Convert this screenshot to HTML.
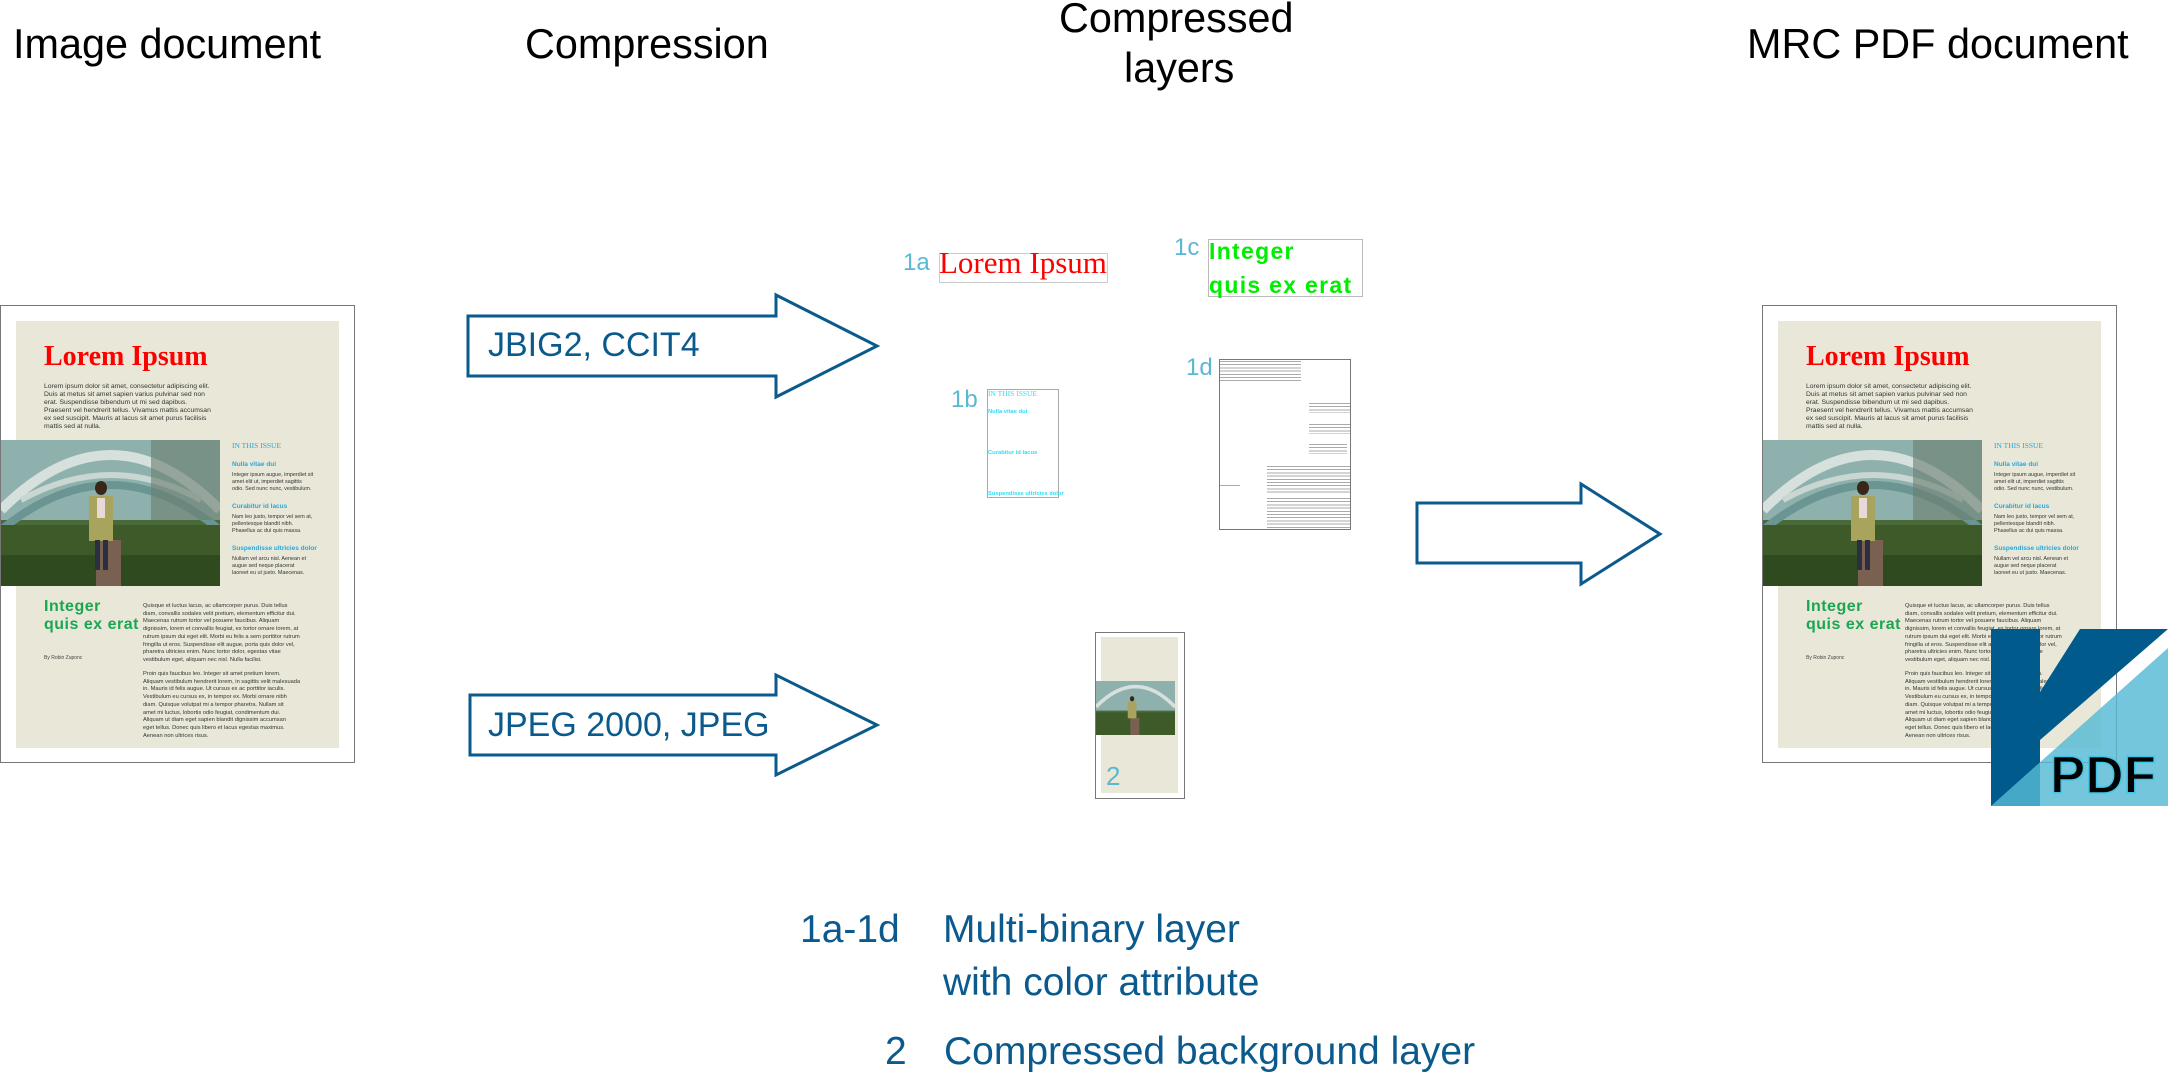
<!DOCTYPE html>
<html><head><meta charset="utf-8">
<style>
*{margin:0;padding:0;box-sizing:border-box}
body{width:2168px;height:1077px;background:#fff;position:relative;overflow:hidden;font-family:"Liberation Sans",Arial,sans-serif}
.abs{position:absolute}
.h{position:absolute;font-size:42px;color:#000;white-space:nowrap;transform-origin:0 0;transform:scaleX(0.985)}
.page{position:absolute;width:355px;height:458px;border:1.5px solid #777;background:#fff}
.page .bg{position:absolute;left:15px;top:15px;width:323px;height:427px;background:#e9e8d8}
.page .t{position:absolute;left:43px;top:35px;font-family:"Liberation Serif",serif;font-size:28px;font-weight:bold;color:#f00;white-space:nowrap}
.page .p{position:absolute;font-size:6.2px;line-height:7.75px;color:#333;white-space:nowrap}
.page .ph{position:absolute;left:0;top:134px;width:219px;height:146px}
.page .iti{position:absolute;left:231px;top:135px;font-family:"Liberation Serif",serif;font-size:7.5px;color:#22a8dd}
.page .sh{position:absolute;left:231px;font-size:6.5px;font-weight:bold;color:#22a8dd;white-space:nowrap}
.page .ig{position:absolute;left:43px;top:292px;font-size:16px;font-weight:bold;color:#1aa653;line-height:18px;letter-spacing:.5px}
.page .by{position:absolute;left:43px;top:349px;font-size:5px;color:#444}
.lbl{position:absolute;font-size:24px;color:#5ab8d3}
.leg{position:absolute;font-size:39px;color:#0b5a8e;white-space:nowrap}
.bars{position:absolute;background:repeating-linear-gradient(#aaa 0 1px,transparent 1px 3.2px)}
</style></head><body>

<div class="h" style="left:13px;top:20px">Image document</div>
<div class="h" style="left:525px;top:20px">Compression</div>
<div class="h" style="left:1059px;top:-6px">Compressed</div>
<div class="h" style="left:1124px;top:44px">layers</div>
<div class="h" style="left:1747px;top:20px">MRC PDF document</div>

<!-- Left page -->
<div class="page" style="left:0;top:305px">
 <div class="bg"></div>
 <div class="t">Lorem Ipsum</div>
 <div class="p" style="left:43px;top:77px;font-size:6.8px;line-height:8px">Lorem ipsum dolor sit amet, consectetur adipiscing elit.<br>Duis at metus sit amet sapien varius pulvinar sed non<br>erat. Suspendisse bibendum ut mi sed dapibus.<br>Praesent vel hendrerit tellus. Vivamus mattis accumsan<br>ex sed suscipit. Mauris at lacus sit amet purus facilisis<br>mattis sed at nulla.</div>
 <svg class="ph" viewBox="0 0 219 146" preserveAspectRatio="none">
  <rect width="219" height="146" fill="#4a6a3a"/>
  <rect width="219" height="80" fill="#8fb1ad"/>
  <path d="M0 70 Q110 -40 219 70" stroke="#d6e0dc" stroke-width="10" fill="none"/>
  <path d="M0 90 Q110 0 219 90" stroke="#6a9592" stroke-width="8" fill="none"/>
  <path d="M20 60 Q110 10 200 60" stroke="#c9d6d2" stroke-width="6" fill="none"/>
  <rect x="150" y="0" width="69" height="80" fill="#6b7d70" opacity=".6"/>
  <rect y="85" width="219" height="61" fill="#3d5a28"/>
  <rect y="115" width="219" height="31" fill="#2f4a1e"/>
  <rect x="95" y="100" width="25" height="46" fill="#7a6050"/>
  <ellipse cx="100" cy="48" rx="6" ry="7" fill="#3a2618"/>
  <rect x="88" y="56" width="24" height="45" fill="#a8a45e"/>
  <rect x="96" y="58" width="8" height="20" fill="#e8d8d8"/>
  <rect x="94" y="100" width="5" height="30" fill="#2a3040"/><rect x="102" y="100" width="5" height="30" fill="#2a3040"/>
 </svg>
 <div class="iti">IN THIS ISSUE</div>
 <div class="sh" style="top:155px">Nulla vitae dui</div>
 <div class="p" style="left:231px;top:166px;font-size:5.4px;line-height:7px">Integer ipsum augue, imperdiet sit<br>amet elit ut, imperdiet sagittis<br>odio. Sed nunc nunc, vestibulum.</div>
 <div class="sh" style="top:197px">Curabitur id lacus</div>
 <div class="p" style="left:231px;top:208px;font-size:5.4px;line-height:7px">Nam leo justo, tempor vel sem at,<br>pellentesque blandit nibh.<br>Phasellus ac dui quis massa.</div>
 <div class="sh" style="top:239px">Suspendisse ultricies dolor</div>
 <div class="p" style="left:231px;top:250px;font-size:5.4px;line-height:7px">Nullam vel arcu nisl. Aenean et<br>augue sed neque placerat<br>laoreet eu ut justo. Maecenas.</div>
 <div class="ig">Integer<br>quis ex erat</div>
 <div class="by">By Robin Zuponc</div>
 <div class="p" style="left:142px;top:297px;font-size:5.7px;line-height:7.7px">Quisque et luctus lacus, ac ullamcorper purus. Duis tellus<br>diam, convallis sodales velit pretium, elementum efficitur dui.<br>Maecenas rutrum tortor vel posuere faucibus. Aliquam<br>dignissim, lorem et convallis feugiat, ex tortor ornare lorem, at<br>rutrum ipsum dui eget elit. Morbi eu felis a sem porttitor rutrum<br>fringilla ut eros. Suspendisse elit augue, porta quis dolor vel,<br>pharetra ultricies enim. Nunc tortor dolor, egestas vitae<br>vestibulum eget, aliquam nec nisl. Nulla facilisi.</div>
 <div class="p" style="left:142px;top:365px;font-size:5.7px;line-height:7.7px">Proin quis faucibus leo. Integer sit amet pretium lorem.<br>Aliquam vestibulum hendrerit lorem, in sagittis velit malesuada<br>in. Mauris id felis augue. Ut cursus ex ac porttitor iaculis.<br>Vestibulum eu cursus ex, in tempor ex. Morbi ornare nibh<br>diam. Quisque volutpat mi a tempor pharetra. Nullam sit<br>amet mi luctus, lobortis odio feugiat, condimentum dui.<br>Aliquam ut diam eget sapien blandit dignissim accumsan<br>eget tellus. Donec quis libero et lacus egestas maximus.<br>Aenean non ultrices risus.</div>
</div>

<!-- Right page -->
<div class="page" style="left:1762px;top:305px">
 <div class="bg"></div>
 <div class="t">Lorem Ipsum</div>
 <div class="p" style="left:43px;top:77px;font-size:6.8px;line-height:8px">Lorem ipsum dolor sit amet, consectetur adipiscing elit.<br>Duis at metus sit amet sapien varius pulvinar sed non<br>erat. Suspendisse bibendum ut mi sed dapibus.<br>Praesent vel hendrerit tellus. Vivamus mattis accumsan<br>ex sed suscipit. Mauris at lacus sit amet purus facilisis<br>mattis sed at nulla.</div>
 <svg class="ph" viewBox="0 0 219 146" preserveAspectRatio="none">
  <rect width="219" height="146" fill="#4a6a3a"/>
  <rect width="219" height="80" fill="#8fb1ad"/>
  <path d="M0 70 Q110 -40 219 70" stroke="#d6e0dc" stroke-width="10" fill="none"/>
  <path d="M0 90 Q110 0 219 90" stroke="#6a9592" stroke-width="8" fill="none"/>
  <path d="M20 60 Q110 10 200 60" stroke="#c9d6d2" stroke-width="6" fill="none"/>
  <rect x="150" y="0" width="69" height="80" fill="#6b7d70" opacity=".6"/>
  <rect y="85" width="219" height="61" fill="#3d5a28"/>
  <rect y="115" width="219" height="31" fill="#2f4a1e"/>
  <rect x="95" y="100" width="25" height="46" fill="#7a6050"/>
  <ellipse cx="100" cy="48" rx="6" ry="7" fill="#3a2618"/>
  <rect x="88" y="56" width="24" height="45" fill="#a8a45e"/>
  <rect x="96" y="58" width="8" height="20" fill="#e8d8d8"/>
  <rect x="94" y="100" width="5" height="30" fill="#2a3040"/><rect x="102" y="100" width="5" height="30" fill="#2a3040"/>
 </svg>
 <div class="iti">IN THIS ISSUE</div>
 <div class="sh" style="top:155px">Nulla vitae dui</div>
 <div class="p" style="left:231px;top:166px;font-size:5.4px;line-height:7px">Integer ipsum augue, imperdiet sit<br>amet elit ut, imperdiet sagittis<br>odio. Sed nunc nunc, vestibulum.</div>
 <div class="sh" style="top:197px">Curabitur id lacus</div>
 <div class="p" style="left:231px;top:208px;font-size:5.4px;line-height:7px">Nam leo justo, tempor vel sem at,<br>pellentesque blandit nibh.<br>Phasellus ac dui quis massa.</div>
 <div class="sh" style="top:239px">Suspendisse ultricies dolor</div>
 <div class="p" style="left:231px;top:250px;font-size:5.4px;line-height:7px">Nullam vel arcu nisl. Aenean et<br>augue sed neque placerat<br>laoreet eu ut justo. Maecenas.</div>
 <div class="ig">Integer<br>quis ex erat</div>
 <div class="by">By Robin Zuponc</div>
 <div class="p" style="left:142px;top:297px;font-size:5.7px;line-height:7.7px">Quisque et luctus lacus, ac ullamcorper purus. Duis tellus<br>diam, convallis sodales velit pretium, elementum efficitur dui.<br>Maecenas rutrum tortor vel posuere faucibus. Aliquam<br>dignissim, lorem et convallis feugiat, ex tortor ornare lorem, at<br>rutrum ipsum dui eget elit. Morbi eu felis a sem porttitor rutrum<br>fringilla ut eros. Suspendisse elit augue, porta quis dolor vel,<br>pharetra ultricies enim. Nunc tortor dolor, egestas vitae<br>vestibulum eget, aliquam nec nisl. Nulla facilisi.</div>
 <div class="p" style="left:142px;top:365px;font-size:5.7px;line-height:7.7px">Proin quis faucibus leo. Integer sit amet pretium lorem.<br>Aliquam vestibulum hendrerit lorem, in sagittis velit malesuada<br>in. Mauris id felis augue. Ut cursus ex ac porttitor iaculis.<br>Vestibulum eu cursus ex, in tempor ex. Morbi ornare nibh<br>diam. Quisque volutpat mi a tempor pharetra. Nullam sit<br>amet mi luctus, lobortis odio feugiat, condimentum dui.<br>Aliquam ut diam eget sapien blandit dignissim accumsan<br>eget tellus. Donec quis libero et lacus egestas maximus.<br>Aenean non ultrices risus.</div>
</div>

<!-- Arrows + logo -->
<svg class="abs" style="left:0;top:0" width="2168" height="1077">
 <g fill="#fff" stroke="#0b5a8e" stroke-width="3" stroke-linejoin="miter">
  <polygon points="468,316 776,316 776,295 877,346 776,397 776,376 468,376"/>
  <polygon points="470,695 776,695 776,675 877,725 776,775 776,755 470,755"/>
  <polygon points="1417,503 1581,503 1581,484 1660,534 1581,584 1581,563 1417,563"/>
 </g>
 <polygon points="1991,629 2040,629 2040,692 2080,629 2168,629 2040,740 2040,806 1991,806" fill="#005a8c"/>
 <polygon points="2168,648 2168,806 1991,806" fill="#55bad4" opacity=".82"/>
 <text x="2050" y="793" font-family="Liberation Sans,Arial,sans-serif" font-size="53" font-weight="bold" fill="#000" stroke="#3fc6e6" stroke-width="1.5">PDF</text>
</svg>
<div class="abs" style="left:488px;top:326px;font-size:34px;color:#0b5a8e">JBIG2, CCIT4</div>
<div class="abs" style="left:488px;top:706px;font-size:34px;color:#0b5a8e">JPEG 2000, JPEG</div>

<!-- Layers -->
<div class="lbl" style="left:903px;top:249px">1a</div>
<div class="abs" style="left:939px;top:253px;width:169px;height:30px;border:1px solid #ccc"></div>
<div class="abs" style="left:939px;top:247px;font-family:'Liberation Serif',serif;font-size:31px;line-height:31px;color:#f00;white-space:nowrap">Lorem Ipsum</div>

<div class="lbl" style="left:1174px;top:234px">1c</div>
<div class="abs" style="left:1208px;top:239px;width:155px;height:58px;border:1px solid #bbb"></div>
<div class="abs" style="left:1209px;top:234px;font-size:23px;font-weight:bold;line-height:34px;color:#00ee00;white-space:nowrap;letter-spacing:1.3px">Integer<br>quis ex erat</div>

<div class="lbl" style="left:951px;top:386px">1b</div>
<div class="abs" style="left:987px;top:389px;width:72px;height:109px;border:1px solid #aaa">
 <div class="abs" style="left:0;top:-1px;font-family:'Liberation Serif',serif;font-size:7.5px;color:#2ddcf5;white-space:nowrap">IN THIS ISSUE</div>
 <div class="abs" style="left:0;top:19px;font-size:5.8px;font-weight:bold;color:#2ddcf5;white-space:nowrap">Nulla vitae dui</div>
 <div class="abs" style="left:0;top:60px;font-size:5.8px;font-weight:bold;color:#2ddcf5;white-space:nowrap">Curabitur id lacus</div>
 <div class="abs" style="left:0;top:101px;font-size:5.8px;font-weight:bold;color:#2ddcf5;white-space:nowrap">Suspendisse ultricies dolor</div>
</div>

<div class="lbl" style="left:1186px;top:354px">1d</div>
<div class="abs" style="left:1219px;top:359px;width:132px;height:171px;border:1px solid #777">
 <div class="bars" style="left:0;top:1px;width:81px;height:21px"></div>
 <div class="bars" style="left:89px;top:43px;width:41px;height:10px"></div>
 <div class="bars" style="left:89px;top:64px;width:41px;height:10px"></div>
 <div class="bars" style="left:89px;top:84px;width:38px;height:10px"></div>
 <div class="bars" style="left:0;top:125px;width:20px;height:2px"></div>
 <div class="bars" style="left:47px;top:106px;width:83px;height:27px"></div>
 <div class="bars" style="left:47px;top:138px;width:83px;height:30px"></div>
</div>

<div class="abs" style="left:1095px;top:632px;width:90px;height:167px;border:1.5px solid #777;background:#fff">
 <div class="abs" style="left:5px;top:4px;width:77px;height:156px;background:#e9e8d8"></div>
 <svg class="abs" style="left:0;top:48px" width="79" height="54" viewBox="0 0 219 146" preserveAspectRatio="none">
  <rect width="219" height="146" fill="#4a6a3a"/>
  <rect width="219" height="80" fill="#8fb1ad"/>
  <path d="M0 70 Q110 -40 219 70" stroke="#d6e0dc" stroke-width="10" fill="none"/>
  <rect y="85" width="219" height="61" fill="#3d5a28"/>
  <rect x="95" y="100" width="25" height="46" fill="#7a6050"/>
  <rect x="88" y="56" width="24" height="45" fill="#a8a45e"/>
  <ellipse cx="100" cy="48" rx="6" ry="7" fill="#3a2618"/>
 </svg>
 <div class="lbl" style="left:10px;top:128px;font-size:26px">2</div>
</div>

<!-- Legend -->
<div class="leg" style="left:800px;top:908px">1a-1d</div>
<div class="leg" style="left:943px;top:908px">Multi-binary layer</div>
<div class="leg" style="left:943px;top:961px">with color attribute</div>
<div class="leg" style="left:885px;top:1030px">2</div>
<div class="leg" style="left:944px;top:1030px">Compressed background layer</div>
</body></html>
